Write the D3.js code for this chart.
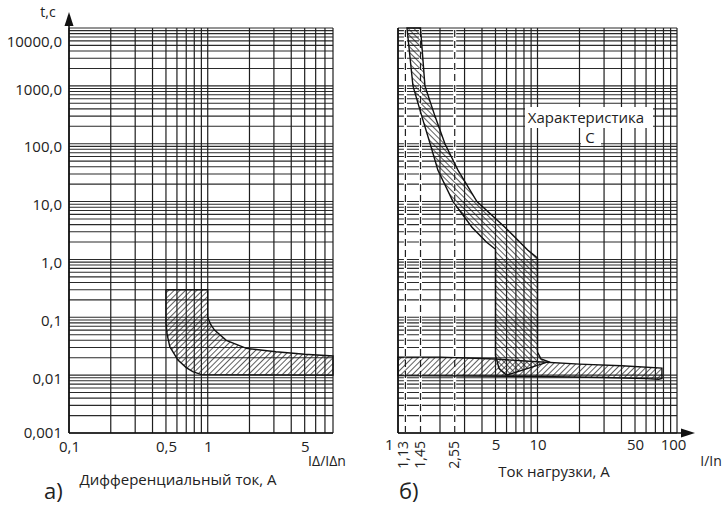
<!DOCTYPE html>
<html lang="ru">
  <head>
    <meta charset="UTF-8" />
    <title>Время-токовые характеристики</title>
    <style>
      body { margin: 0; background: #fff; }
      text { font-family: 'Open Sans', sans-serif; fill: #222; }
    </style>
  </head>
  <body>
    <script src="https://d3js.org/d3.v7.min.js"></script>
    <script>
      // tick values and labels
      const yTicks = [0.001, 0.01, 0.1, 1, 10, 100, 1000, 10000]
      const yTickLabels = ['0,001', '0,01', '0,1', '1,0', '10,0', '100,0', '1000,0', '10000,0']
      const leftTicks = [0.1, 0.5, 1, 5]
      const leftTickLabels = ['0,1', '0,5', '1', '5']
      const rightTicks = [1, 5, 10, 50, 100]
      const rightTickLabels = ['1', '5', '10', '50', '100']
      const markTicks = [1.13, 1.45, 2.55]
      const markTickLabels = ['1,13', '1,45', '2,55']

      // a) RCD band: upper (slow) boundary and lower (fast) boundary
      const rcdUpperI = [0.5, 1, 1, 1.05, 1.12, 1.36, 1.9, 3.1, 5, 8]
      const rcdUpperT = [0.3, 0.3, 0.1, 0.075, 0.06, 0.04, 0.029, 0.0254, 0.023, 0.0214]
      const rcdLowerI = [0.5, 0.5, 0.51, 0.533, 0.61, 0.7, 0.78, 0.9, 8]
      const rcdLowerT = [0.3, 0.08, 0.05, 0.031, 0.0182, 0.0135, 0.0115, 0.0102, 0.01]

      // б) characteristic C: thermal + magnetic band
      const cLowI = [1.16, 1.28, 1.48, 1.7, 1.93, 2.48, 3.39, 4.3, 5, 5, 5.3, 6]
      const cLowT = [10000, 1000, 300, 100, 35, 10, 3.6, 2.0, 1.5, 0.022, 0.013, 0.01]
      const cHighI = [1.45, 1.56, 1.84, 2.17, 2.69, 3.68, 5.84, 8.5, 10, 10, 10.6, 12]
      const cHighT = [10000, 1000, 300, 100, 35, 10, 3.6, 1.46, 1.06, 0.025, 0.019, 0.017]

      // б) RCD trip band along the load current axis
      const hbTopI = [1, 2, 5, 10, 20, 40, 78]
      const hbTopT = [0.0205, 0.0205, 0.019, 0.017, 0.0155, 0.0145, 0.0132]
      const hbBotI = [78, 74, 60, 30, 10, 1]
      const hbBotT = [0.0088, 0.0085, 0.0087, 0.0091, 0.0095, 0.0098]

      const width = 726
      const height = 508

      const svg = d3.select('body').append('svg')
        .attr('width', width).attr('height', height)

      svg.append('rect').attr('width', width).attr('height', height).attr('fill', '#fff')

      const y = d3.scaleLog().domain([0.001, 10000]).range([433, 28])
      const xL = d3.scaleLog().domain([0.1, 8]).range([69, 333])
      const xR = d3.scaleLog().domain([1, 100]).range([398, 677])

      // hatch patterns
      const defs = svg.append('defs')
      function hatch(id, angle) {
        const p = defs.append('pattern')
          .attr('id', id)
          .attr('patternUnits', 'userSpaceOnUse')
          .attr('width', 4).attr('height', 4)
          .attr('patternTransform', `rotate(${angle})`)
        p.append('line')
          .attr('x1', 0).attr('y1', 0).attr('x2', 0).attr('y2', 4)
          .attr('stroke', '#1a1a1a').attr('stroke-width', 1.4)
      }
      hatch('fwd', 45)
      hatch('back', -45)

      function grid(g, x) {
        g.selectAll('.h').data(y.ticks()).join('line')
          .attr('x1', x.range()[0]).attr('x2', x.range()[1])
          .attr('y1', d => y(d)).attr('y2', d => y(d))
          .attr('stroke', '#2a2a2a').attr('stroke-width', 1.1)
        g.selectAll('.v').data(x.ticks()).join('line')
          .attr('x1', d => x(d)).attr('x2', d => x(d))
          .attr('y1', y.range()[0]).attr('y2', y.range()[1])
          .attr('stroke', '#1e1e1e').attr('stroke-width', 1.2)
      }

      const left = svg.append('g')
      const right = svg.append('g')
      grid(left, xL)
      grid(right, xR)

      // dashed marks on the right panel
      right.selectAll('.mk-bg').data(markTicks).join('line')
        .attr('x1', d => xR(d)).attr('x2', d => xR(d))
        .attr('y1', 30).attr('y2', 432)
        .attr('stroke', '#fff').attr('stroke-width', 3)
      right.selectAll('.mk').data(markTicks).join('line')
        .attr('x1', d => xR(d)).attr('x2', d => xR(d))
        .attr('y1', 30).attr('y2', 432)
        .attr('stroke', '#222').attr('stroke-width', 1.2)
        .attr('stroke-dasharray', '7,4')

      function band(g, x, upI, upT, loI, loT, fill) {
        const pts = upI.map((d, i) => [x(d), y(upT[i])])
          .concat(loI.map((d, i) => [x(d), y(loT[i])]).reverse())
        g.append('path')
          .attr('d', d3.line().curve(d3.curveLinearClosed)(pts))
          .attr('fill', `url(#${fill})`)
          .attr('stroke', '#111').attr('stroke-width', 1.4)
      }

      band(left, xL, rcdUpperI, rcdUpperT, rcdLowerI, rcdLowerT, 'fwd')
      band(right, xR, hbTopI, hbTopT, hbBotI.slice().reverse(), hbBotT.slice().reverse(), 'fwd')
      band(right, xR, cHighI, cHighT, cLowI, cLowT, 'back')

      // label inside the right panel
      right.append('rect').attr('x', 525).attr('y', 107).attr('width', 128).attr('height', 21).attr('fill', '#fff')
      right.append('rect').attr('x', 581).attr('y', 128).attr('width', 20).attr('height', 18).attr('fill', '#fff')
      right.append('text').attr('x', 586).attr('y', 123).attr('text-anchor', 'middle')
        .attr('font-size', 15).text('Характеристика')
      right.append('text').attr('x', 590).attr('y', 143).attr('text-anchor', 'middle')
        .attr('font-size', 15).text('С')

      // axes
      const yAxis = svg.append('g')
        .attr('transform', `translate(${xL.range()[0]},0)`)
        .call(d3.axisLeft(y).tickValues(yTicks).tickFormat((d, i) => yTickLabels[i]).tickSize(0).tickPadding(7))
      yAxis.select('.domain').remove()
      yAxis.selectAll('text')
        .attr('font-size', 15).attr('font-family', null).attr('fill', '#222')
        .attr('dy', d => d === 10000 ? '1.2em' : (d < 0.01 ? '0.3em' : '0.55em'))

      const xAxisL = svg.append('g')
        .attr('transform', `translate(0,${y.range()[0]})`)
        .call(d3.axisBottom(xL).tickValues(leftTicks).tickFormat((d, i) => leftTickLabels[i]).tickSize(0).tickPadding(8))
      xAxisL.select('.domain').remove()
      xAxisL.selectAll('text').attr('font-size', 15).attr('font-family', null).attr('fill', '#222')

      const xAxisR = svg.append('g')
        .attr('transform', `translate(0,${y.range()[0]})`)
        .call(d3.axisBottom(xR).tickValues(rightTicks).tickFormat((d, i) => rightTickLabels[i]).tickSize(0).tickPadding(6))
      xAxisR.select('.domain').remove()
      xAxisR.selectAll('text').attr('font-size', 15).attr('font-family', null).attr('fill', '#222')
        .attr('text-anchor', d => d === 1 ? 'end' : 'middle')
        .attr('dx', d => d === 1 ? -5 : (d === 100 ? -4 : 0))

      svg.append('g').selectAll('text').data(markTicks).join('text')
        .attr('transform', (d, i) => `translate(${xR(d) - (i === 0 ? 3 : 1)},441) rotate(-90)`)
        .attr('text-anchor', 'end').attr('dominant-baseline', 'central')
        .attr('font-size', 14)
        .text((d, i) => markTickLabels[i])

      // axis lines and arrows
      const ax = svg.append('g').attr('stroke', '#111').attr('stroke-width', 1.6)
      ax.append('line').attr('x1', xL(0.1)).attr('x2', xL(0.1)).attr('y1', y(0.001)).attr('y2', 20)
      ax.append('line').attr('x1', xL(0.1)).attr('x2', xL(8)).attr('y1', y(0.001)).attr('y2', y(0.001))
      ax.append('line').attr('x1', xR(1)).attr('x2', xR(1)).attr('y1', y(0.001)).attr('y2', y(10000))
      ax.append('line').attr('x1', xR(1)).attr('x2', 686).attr('y1', y(0.001)).attr('y2', y(0.001))
      svg.append('path').attr('fill', '#111')
        .attr('d', `M${xL(0.1)},12 L${xL(0.1) - 4.5},26 L${xL(0.1) + 4.5},26 Z`)
      svg.append('path').attr('fill', '#111')
        .attr('d', `M695,${y(0.001)} L681,${y(0.001) - 4.5} L681,${y(0.001) + 4.5} Z`)

      // titles
      const t = svg.append('g')
      t.append('text').attr('x', 48).attr('y', 17).attr('text-anchor', 'middle').attr('font-size', 14).text('t,c')
      t.append('text').attr('x', 327).attr('y', 466).attr('text-anchor', 'middle').attr('font-size', 14).text('IΔ/IΔn')
      t.append('text').attr('x', 178).attr('y', 485).attr('text-anchor', 'middle').attr('font-size', 15).text('Дифференциальный ток, А')
      t.append('text').attr('x', 711).attr('y', 466).attr('text-anchor', 'middle').attr('font-size', 14).text('I/In')
      t.append('text').attr('x', 554).attr('y', 477).attr('text-anchor', 'middle').attr('font-size', 15).text('Ток нагрузки, А')
      t.append('text').attr('x', 44).attr('y', 499).attr('font-size', 22).text('а)')
      t.append('text').attr('x', 399).attr('y', 499).attr('font-size', 22).text('б)')
    </script>
  </body>
</html>
